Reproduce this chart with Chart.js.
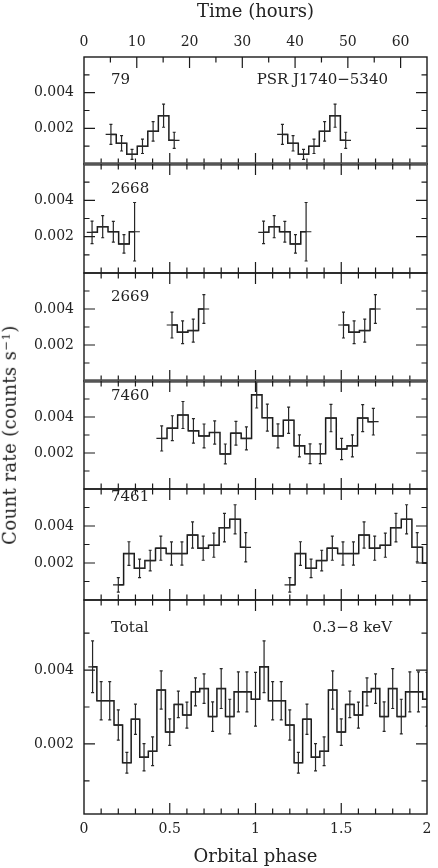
<!DOCTYPE html>
<html>
<head>
<meta charset="utf-8">
<script src="https://cdn.jsdelivr.net/npm/chart.js@4.4.1/dist/chart.umd.min.js"></script>
<style>
  body { margin: 0; background: #fff; width: 438px; height: 868px; overflow: hidden; position: relative; }
  canvas { position: absolute; left: 0; }
  .lbl { position: absolute; font: 15px "DejaVu Serif"; color: #222; line-height: 1; white-space: nowrap; }
  #ytitle { position: absolute; left: 10px; top: 435px; transform: translate(-50%, -50%) rotate(-90deg);
            font: 18px "DejaVu Serif"; color: #222; white-space: nowrap; line-height: 1; letter-spacing: 0.4px; }
  #ytitle sup { font-size: 0.65em; vertical-align: 0.55em; }
</style>
</head>
<body>
<canvas id="c1"></canvas>
<canvas id="c2"></canvas>
<canvas id="c3"></canvas>
<canvas id="c4"></canvas>
<canvas id="c5"></canvas>
<canvas id="c6"></canvas>
<div id="ytitle">Count rate (counts s<sup>−1</sup>)</div>
<script>
// axis ticks
const phaseTicks = [0, 0.5, 1, 1.5, 2];
const phaseTickLabels = ['0', '0.5', '1', '1.5', '2'];
const hourTicks = [0, 10, 20, 30, 40, 50, 60];
const rateTicks = [0.002, 0.004];
const rateTickLabels = ['0.002', '0.004'];
const rateMinorTicks = [0.001, 0.002, 0.003, 0.004, 0.005];
const hoursPerTwoOrbits = 65;

// ObsID 79 (one orbit, shown twice)
const phase79 = [0.157, 0.219, 0.280, 0.341, 0.403, 0.464, 0.526];
const rate79 = [0.00166, 0.00116, 0.00054, 0.00099, 0.00183, 0.00271, 0.00133];
const err79 = [0.00056, 0.00043, 0.00028, 0.00040, 0.00055, 0.00065, 0.00045];

// ObsID 2668
const phase2668 = [0.047, 0.109, 0.171, 0.233, 0.295];
const rate2668 = [0.00224, 0.00255, 0.00227, 0.00160, 0.00227];
const err2668 = [0.00062, 0.00061, 0.00057, 0.00051, 0.00161];

// ObsID 2669
const phase2669 = [0.513, 0.575, 0.637, 0.699];
const rate2669 = [0.00311, 0.00271, 0.00280, 0.00400];
const err2669 = [0.00072, 0.00063, 0.00064, 0.00080];

// ObsID 7460 (longer than one orbit, not repeated)
const phase7460 = [0.453, 0.515, 0.577, 0.638, 0.700, 0.762, 0.824, 0.886, 0.947, 1.007, 1.069,
                   1.131, 1.193, 1.256, 1.318, 1.378, 1.440, 1.502, 1.565, 1.625, 1.687];
const rate7460 = [0.00281, 0.00338, 0.00411, 0.00323, 0.00295, 0.00314, 0.00195, 0.00310, 0.00281, 0.00523, 0.00396,
                  0.00295, 0.00382, 0.00240, 0.00196, 0.00196, 0.00394, 0.00222, 0.00240, 0.00394, 0.00374];
const err7460 = [0.00070, 0.00069, 0.00075, 0.00068, 0.00066, 0.00065, 0.00055, 0.00066, 0.00064, 0.00073, 0.00075,
                 0.00067, 0.00073, 0.00061, 0.00055, 0.00055, 0.00076, 0.00059, 0.00061, 0.00075, 0.00074];

// ObsID 7461
const phase7461 = [0.200, 0.262, 0.324, 0.386, 0.448, 0.510, 0.571, 0.633, 0.695, 0.757, 0.819, 0.881, 0.943];
const rate7461 = [0.00082, 0.00251, 0.00171, 0.00213, 0.00280, 0.00251, 0.00251, 0.00351, 0.00280, 0.00296, 0.00391, 0.00436, 0.00285];
const err7461 = [0.00039, 0.00064, 0.00050, 0.00056, 0.00065, 0.00063, 0.00063, 0.00071, 0.00065, 0.00065, 0.00077, 0.00079, 0.00079];
const phase7461Tail = [2.005];
const rate7461Tail = [0.0020];

// all observations folded, 20 bins per orbit
const phaseTotal = [0.05, 0.10, 0.15, 0.20, 0.25, 0.30, 0.35, 0.40, 0.45, 0.50,
                    0.55, 0.60, 0.65, 0.70, 0.75, 0.80, 0.85, 0.90, 0.95, 1.00];
const rateTotal = [0.00409, 0.00317, 0.00317, 0.00251, 0.00149, 0.00267, 0.00164, 0.00180, 0.00346, 0.00232,
                   0.00307, 0.00278, 0.00341, 0.00350, 0.00274, 0.00350, 0.00274, 0.00341, 0.00341, 0.00321];
const errTotal = [0.00070, 0.00052, 0.00052, 0.00041, 0.00028, 0.00041, 0.00037, 0.00039, 0.00052, 0.00036,
                  0.00036, 0.00035, 0.00038, 0.00040, 0.00040, 0.00054, 0.00047, 0.00054, 0.00054, 0.00073];

const hwObs = 0.0308;   // 2 h bins
const hwTotal = 0.025;

function points(ph, r, e, hw, repeat, gap) {
  const pts = ph.map((p, i) => ({ x: p, y: r[i], e: e[i], hw }));
  if (!repeat) return pts;
  const second = ph.map((p, i) => ({ x: p + 1, y: r[i], e: e[i], hw }));
  return gap ? pts.concat([{ x: 0.99, y: null }], second) : pts.concat(second);
}

const panels = [
  { id: 'c1', top: 0, height: 164, pts: points(phase79, rate79, err79, hwObs, true, true), first: true,
    thickBottom: true,
    labels: [{ t: '79', x: 111, y: 80 }, { t: 'PSR J1740−5340', r: 50, y: 80 }] },
  { id: 'c2', top: 164, height: 109, pts: points(phase2668, rate2668, err2668, hwObs, true, true),
    thickTop: true,
    labels: [{ t: '2668', x: 111, y: 189 }] },
  { id: 'c3', top: 273, height: 108, pts: points(phase2669, rate2669, err2669, hwObs, true, true),
    thickBottom: true,
    labels: [{ t: '2669', x: 111, y: 297 }] },
  { id: 'c4', top: 381, height: 108, pts: points(phase7460, rate7460, err7460, hwObs, false),
    thickTop: true,
    labels: [{ t: '7460', x: 111, y: 396 }] },
  { id: 'c5', top: 489, height: 111,
    pts: points(phase7461, rate7461, err7461, hwObs, true, true)
      .concat(phase7461Tail.map((p, i) => ({ x: p, y: rate7461Tail[i], e: 0, hw: hwObs }))),
    labels: [{ t: '7461', x: 111, y: 497 }] },
  { id: 'c6', top: 600, height: 214, pts: points(phaseTotal, rateTotal, errTotal, hwTotal, true, false), last: true,
    ymin: 0.0001, ymax: 0.0059,
    labels: [{ t: 'Total', x: 111, y: 628 }, { t: '0.3−8 keV', r: 46, y: 628 }] }
];

const INK = '#222';
const tickFont = { family: 'DejaVu Serif', size: 14 };
const titleFont = { family: 'DejaVu Serif', size: 18 };

// frame, inward ticks and error bars
const framePlugin = {
  id: 'frame',
  afterDatasetsDraw(chart, args, opts) {
    const { ctx, chartArea: a, scales } = chart;
    const xs = scales.x, ys = scales.y;
    ctx.save();
    ctx.beginPath();
    ctx.rect(a.left, a.top, a.right - a.left, a.bottom - a.top);
    ctx.clip();
    ctx.strokeStyle = '#262626';
    ctx.lineWidth = 1.2;
    chart.data.datasets[0].data.forEach(p => {
      if (p.y == null) return;
      const x = xs.getPixelForValue(p.x);
      const x0 = xs.getPixelForValue(p.x - p.hw), x1 = xs.getPixelForValue(p.x + p.hw);
      const y = ys.getPixelForValue(p.y);
      const yLo = ys.getPixelForValue(p.y - p.e), yHi = ys.getPixelForValue(p.y + p.e);
      ctx.beginPath();
      ctx.moveTo(x0, y); ctx.lineTo(x1, y);
      if (p.e > 0) {
        ctx.moveTo(x, yLo); ctx.lineTo(x, yHi);
        ctx.moveTo(x - 1.5, yLo); ctx.lineTo(x + 1.5, yLo);
        ctx.moveTo(x - 1.5, yHi); ctx.lineTo(x + 1.5, yHi);
      }
      ctx.stroke();
    });
    ctx.restore();

    ctx.save();
    ctx.strokeStyle = '#1a1a1a';
    ctx.lineWidth = 1.4;
    ctx.strokeRect(a.left, a.top, a.right - a.left, a.bottom - a.top);
    // the doubled frame lines between some panels
    ctx.strokeStyle = '#555';
    ctx.lineWidth = 3;
    ctx.beginPath();
    if (opts.thickTop) { ctx.moveTo(a.left, a.top); ctx.lineTo(a.right, a.top); }
    if (opts.thickBottom) { ctx.moveTo(a.left, a.bottom); ctx.lineTo(a.right, a.bottom); }
    ctx.stroke();

    ctx.strokeStyle = '#1a1a1a';
    ctx.lineWidth = 1.2;
    ctx.beginPath();
    // rate ticks on both sides
    rateMinorTicks.forEach(v => {
      if (v <= ys.min || v >= ys.max) return;
      const y = ys.getPixelForValue(v);
      const len = rateTicks.includes(v) ? 11 : 5.5;
      ctx.moveTo(a.left, y); ctx.lineTo(a.left + len, y);
      ctx.moveTo(a.right, y); ctx.lineTo(a.right - len, y);
    });
    // phase ticks every 0.1, bottom (and top unless the hours axis is there)
    for (let k = 1; k < 20; k++) {
      const x = xs.getPixelForValue(k / 10);
      const len = k % 5 === 0 ? 11 : 5.5;
      ctx.moveTo(x, a.bottom); ctx.lineTo(x, a.bottom - len);
      if (!scales.x2) { ctx.moveTo(x, a.top); ctx.lineTo(x, a.top + len); }
    }
    if (scales.x2) {
      for (let h = 5; h < hoursPerTwoOrbits; h += 5) {
        const x = scales.x2.getPixelForValue(h);
        const len = h % 10 === 0 ? 11 : 5.5;
        ctx.moveTo(x, a.top); ctx.lineTo(x, a.top + len);
      }
    }
    ctx.stroke();
    ctx.restore();
  }
};

panels.forEach(p => {
  const padTop = p.first ? 0 : 2;
  const padBottom = p.last ? 0 : 2;
  const canvas = document.getElementById(p.id);
  const cssH = p.height + padTop + (p.last ? 54 : padBottom);
  canvas.width = 438;
  canvas.height = cssH;
  canvas.style.width = '438px';
  canvas.style.height = cssH + 'px';
  canvas.style.top = (p.top - padTop) + 'px';

  const noTickMarks = { display: false, drawTicks: false };
  const scales = {
    x: {
      type: 'linear', min: 0, max: 2, display: !!p.last, position: 'bottom',
      grid: noTickMarks, border: { display: false },
      afterBuildTicks: s => { s.ticks = phaseTicks.map(v => ({ value: v })); },
      afterFit: s => { if (p.last) s.height = 54; s.paddingLeft = 0; s.paddingRight = 0; },
      ticks: { font: tickFont, color: INK, padding: 7, maxRotation: 0,
               callback: (v, i) => phaseTickLabels[i] },
      title: { display: true, text: 'Orbital phase', font: titleFont, color: INK, padding: { top: 0, bottom: 0 } }
    },
    y: {
      type: 'linear', min: p.ymin ?? 0, max: p.ymax ?? 0.006,
      grid: noTickMarks, border: { display: false },
      afterBuildTicks: s => { s.ticks = rateTicks.map(v => ({ value: v })); },
      afterFit: s => { s.width = 84; s.paddingTop = 0; s.paddingBottom = 0; },
      ticks: { font: tickFont, color: INK, padding: 10, callback: (v, i) => rateTickLabels[i] }
    }
  };
  if (p.first) {
    scales.x2 = {
      type: 'linear', min: 0, max: hoursPerTwoOrbits, position: 'top',
      grid: noTickMarks, border: { display: false },
      afterBuildTicks: s => { s.ticks = hourTicks.map(v => ({ value: v })); },
      afterFit: s => { s.height = 57; s.paddingLeft = 0; s.paddingRight = 0; },
      ticks: { font: tickFont, color: INK, padding: 6, maxRotation: 0 },
      title: { display: true, text: 'Time (hours)', font: titleFont, color: INK, padding: { top: 2, bottom: 0 } }
    };
  }

  new Chart(canvas, {
    type: 'line',
    data: {
      datasets: [{
        data: p.pts,
        stepped: 'middle',
        borderColor: '#1a1a1a',
        borderWidth: 1.5,
        pointRadius: 0,
        fill: false,
        spanGaps: false
      }]
    },
    options: {
      responsive: false,
      maintainAspectRatio: false,
      animation: false,
      layout: { padding: { left: 0, right: 11, top: padTop, bottom: padBottom } },
      plugins: {
        legend: { display: false },
        tooltip: { enabled: false },
        frame: { thickTop: !!p.thickTop, thickBottom: !!p.thickBottom }
      },
      scales
    },
    plugins: [framePlugin]
  });

  p.labels.forEach(l => {
    const d = document.createElement('div');
    d.className = 'lbl';
    d.textContent = l.t;
    d.style.top = (l.y - 8) + 'px';
    if (l.r != null) d.style.right = l.r + 'px';
    else d.style.left = l.x + 'px';
    document.body.appendChild(d);
  });
});
</script>
</body>
</html>
